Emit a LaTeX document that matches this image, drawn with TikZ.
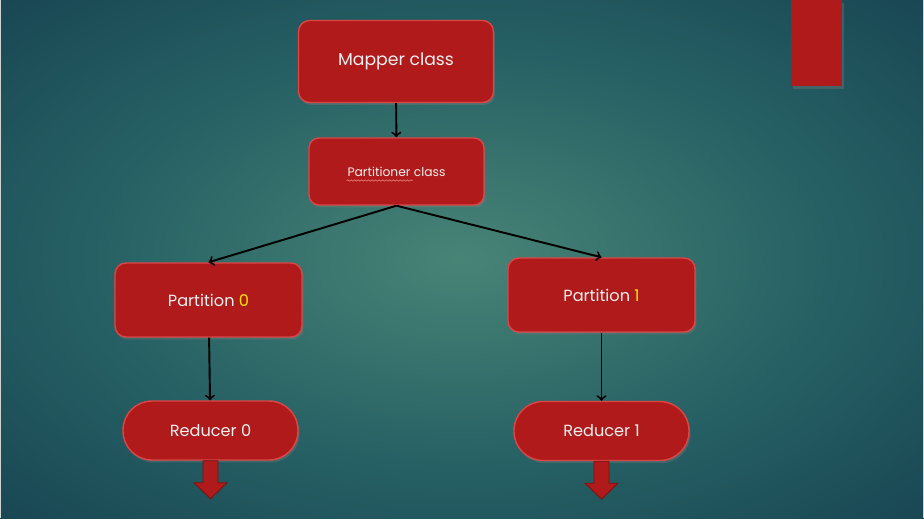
\documentclass[tikz,border=0pt]{standalone}
\usepackage{fontspec}
\setmainfont{Poppins}
\usepackage{tikz}
\usetikzlibrary{arrows,positioning,calc,shadows,decorations.pathmorphing}

\definecolor{boxred}{RGB}{176,26,26}
\definecolor{boxedge}{RGB}{222,70,70}
\definecolor{bgin}{RGB}{72,132,118}
\definecolor{bgmid}{RGB}{38,96,100}
\definecolor{bgout}{RGB}{16,54,72}
\definecolor{digit}{RGB}{255,230,0}
\definecolor{spell}{RGB}{230,120,120}
\pgfdeclareradialshading{slide}{\pgfpoint{0bp}{0bp}}{color(0bp)=(bgin); color(20bp)=(bgmid); color(46bp)=(bgout); color(72bp)=(bgout)}

\begin{document}
\begin{tikzpicture}[x=0.02cm, y=-0.02cm,
            box/.style={draw=boxedge, line width=0.8pt, fill=boxred, rounded corners=0.22cm,
              text=white!94!black, minimum width=3.74cm, minimum height=1.48cm,
              drop shadow={opacity=0.35, shadow xshift=0.03cm, shadow yshift=-0.05cm},
              font=\fontsize{9.2}{11}\selectfont},
            pill/.style={box, rounded corners=0.58cm, minimum width=3.5cm, minimum height=1.18cm},
            tailarrow/.style={fill=boxred, draw=boxred!70!black, line width=0.5pt},
            link/.style={->, >=to, draw=black, line width=1.1pt}]
        \useasboundingbox (0,0) rectangle (924,518);
        \fill[shading=slide] (0,0) rectangle (924,518);
        \draw[gray!35, line width=1pt] (0.5,0) -- (0.5,518) (923.5,0) -- (923.5,518);

        % corner block
        \fill[boxred, drop shadow={opacity=0.35, shadow xshift=0.03cm, shadow yshift=-0.05cm}] (791,0) rectangle (842,86);

        \node[box, minimum width=3.9cm, minimum height=1.64cm, font=\fontsize{9.8}{12}\selectfont] (mapper) at (396,61.5) {Mapper class};
        \node[box, minimum width=3.5cm, minimum height=1.34cm, rounded corners=0.2cm,
              font=\fontsize{7}{9}\selectfont] (part) at (396.5,171.5) {Partitioner class};
        \node[box] (p0) at (208.5,300) {Partition \textcolor{digit}{0}};
        \node[box] (p1) at (601.5,295) {Partition \textcolor{digit}{1}};
        \node[pill] (r0) at (210.5,430.5) {Reducer 0};
        \node[pill] (r1) at (601.5,431) {Reducer 1};

        \draw[spell, line width=0.4pt, decorate, decoration={snake, amplitude=0.35pt, segment length=2pt}]
            ($(part.center)+(-50,9)$) -- ($(part.center)+(16,9)$);

        \draw[link] (mapper) -- (part);
        \draw[link] (part.south) -- (p0.north);
        \draw[link] (part.south) -- (p1.north);
        \draw[link] (p0) -- (r0);
        \draw[link] (p1) -- (r1);

        \foreach \r in {r0,r1}
            \filldraw[tailarrow] (\r.south) ++(-7.5,0) -- ++(0,22) -- ++(-9,0) -- ++(16.5,16)
                -- ++(16.5,-16) -- ++(-9,0) -- ++(0,-22) -- cycle;
\end{tikzpicture}
\end{document}
